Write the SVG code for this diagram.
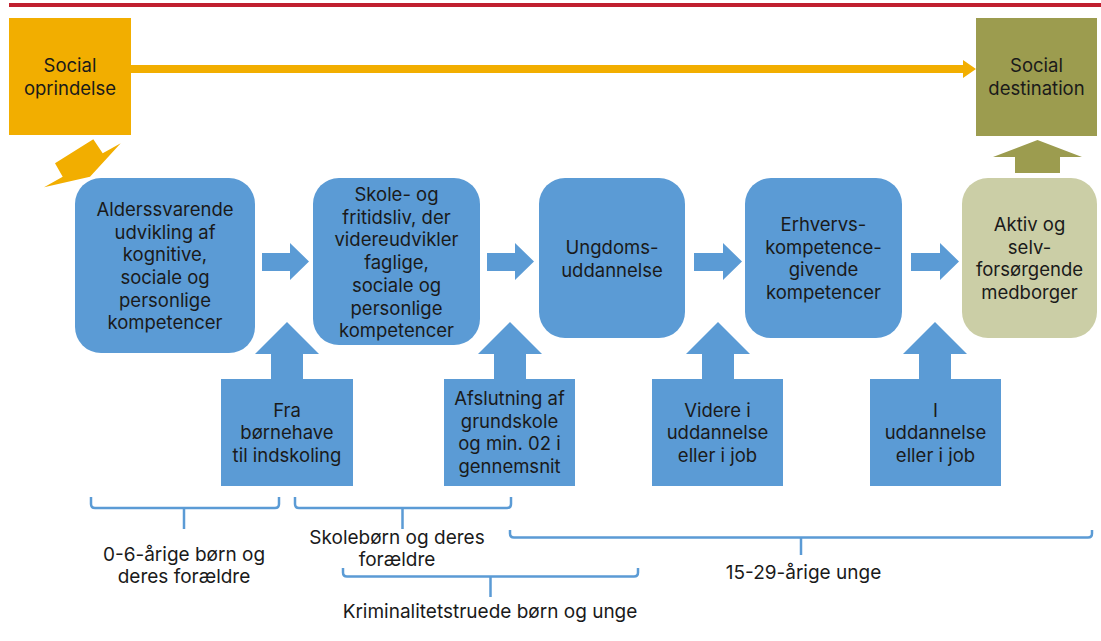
<svg xmlns="http://www.w3.org/2000/svg" width="1101" height="641" viewBox="0 0 1101 641">
<style>
text{font-family:Inter,"Noto Sans","Liberation Sans",sans-serif;font-size:18.5px;fill:#1a1a1a;text-anchor:middle}
text.lbl{font-size:19px}
.blue{fill:#5B9BD5}
.brace{fill:none;stroke:#5B9BD5;stroke-width:2.5}
</style>
<rect x="0" y="0" width="1101" height="641" fill="#ffffff"/>
<rect x="9" y="3" width="1092" height="4" fill="#C0202F"/>

<g id="connectors">
  <path d="M131,65 H963 V60 L976,69 L963,78 V73 H131 Z" fill="#F2AE00"/>
  <polygon points="120.7,143.3 90,176.7 44,187.3 62.7,176.7 55,163.3 93.3,139.3 102.7,153.3" fill="#F2AE00"/>
  <polygon points="1015,173 1015,157 993,157 1037.5,140 1082,157 1060,157 1060,173" fill="#9C9C4F"/>
  <polygon class="blue" points="262,253 290,253 290,243 309,261.5 290,280 290,271 262,271"/>
  <polygon class="blue" points="487,253 515,253 515,243 534,261.5 515,280 515,271 487,271"/>
  <polygon class="blue" points="694,253 723,253 723,243 742,261.5 723,280 723,271 694,271"/>
  <polygon class="blue" points="911,253 940,253 940,243 959,261.5 940,280 940,271 911,271"/>
  <polygon class="blue" points="271,379 271,354 255,354 287,322 319,354 303,354 303,379"/>
  <polygon class="blue" points="494,379 494,354 478,354 510,322 542,354 526,354 526,379"/>
  <polygon class="blue" points="702,379 702,354 686,354 718,322 750,354 734,354 734,379"/>
  <polygon class="blue" points="919,379 919,354 903,354 935,322 967,354 951,354 951,379"/>
</g>

<g id="social-oprindelse">
  <rect x="9" y="18" width="122" height="117" fill="#F2AE00"/>
  <text x="70" y="72">Social</text>
  <text x="70" y="94.7">oprindelse</text>
</g>
<g id="social-destination">
  <rect x="976" y="18" width="121" height="118" fill="#9C9C4F"/>
  <text x="1036.5" y="72">Social</text>
  <text x="1036.5" y="94.7">destination</text>
</g>

<g id="box1">
  <rect class="blue" x="75" y="178" width="180" height="175" rx="26"/>
  <text x="165" y="216">Alderssvarende</text>
  <text x="165" y="238.7">udvikling af</text>
  <text x="165" y="261.4">kognitive,</text>
  <text x="165" y="284">sociale og</text>
  <text x="165" y="306.7">personlige</text>
  <text x="165" y="329.4">kompetencer</text>
</g>
<g id="box2">
  <rect class="blue" x="313" y="178" width="167" height="167" rx="26"/>
  <text x="396.5" y="201">Skole- og</text>
  <text x="396.5" y="223.7">fritidsliv, der</text>
  <text x="396.5" y="246.4">videreudvikler</text>
  <text x="396.5" y="269">faglige,</text>
  <text x="396.5" y="291.8">sociale og</text>
  <text x="396.5" y="314.5">personlige</text>
  <text x="396.5" y="337.2">kompetencer</text>
</g>
<g id="box3">
  <rect class="blue" x="539" y="178" width="146" height="160" rx="26"/>
  <text x="612" y="254">Ungdoms-</text>
  <text x="612" y="276.7">uddannelse</text>
</g>
<g id="box4">
  <rect class="blue" x="745" y="178" width="157" height="160" rx="26"/>
  <text x="823.5" y="231">Erhvervs-</text>
  <text x="823.5" y="253.7">kompetence-</text>
  <text x="823.5" y="276.4">givende</text>
  <text x="823.5" y="299">kompetencer</text>
</g>
<g id="box5">
  <rect x="962" y="178" width="135" height="160" rx="26" fill="#CBCEA6"/>
  <text x="1029.5" y="231">Aktiv og</text>
  <text x="1029.5" y="253.7">selv-</text>
  <text x="1029.5" y="276.4">forsørgende</text>
  <text x="1029.5" y="299">medborger</text>
</g>

<g id="fra-boernehave">
  <rect class="blue" x="221" y="379" width="132" height="107"/>
  <text x="287" y="416.7">Fra</text>
  <text x="287" y="439.4">børnehave</text>
  <text x="287" y="462">til indskoling</text>
</g>
<g id="afslutning">
  <rect class="blue" x="444" y="379" width="131" height="107"/>
  <text x="509.5" y="405">Afslutning af</text>
  <text x="509.5" y="427.7">grundskole</text>
  <text x="509.5" y="450.4">og min. 02 i</text>
  <text x="509.5" y="473">gennemsnit</text>
</g>
<g id="videre">
  <rect class="blue" x="652" y="379" width="131" height="107"/>
  <text x="717.5" y="416.5">Videre i</text>
  <text x="717.5" y="439.2">uddannelse</text>
  <text x="717.5" y="461.9">eller i job</text>
</g>
<g id="i-uddannelse">
  <rect class="blue" x="870" y="379" width="131" height="107"/>
  <text x="935.5" y="416.5">I</text>
  <text x="935.5" y="439.2">uddannelse</text>
  <text x="935.5" y="461.9">eller i job</text>
</g>

<g id="brace-0-6">
  <path class="brace" d="M91,497 V504 Q91,508 95,508 H184 M184,508 V529 M184,508 H275 Q279,508 279,504 V497"/>
  <text class="lbl" x="184" y="561">0-6-årige børn og</text>
  <text class="lbl" x="184" y="583">deres forældre</text>
</g>
<g id="brace-skole">
  <path class="brace" d="M295,497 V504 Q295,508 299,508 H402.5 M402.5,508 V529 M402.5,508 H507 Q511,508 511,504 V497"/>
  <text class="lbl" x="397" y="544.3">Skolebørn og deres</text>
  <text class="lbl" x="397" y="566">forældre</text>
</g>
<g id="brace-15-29">
  <path class="brace" d="M510,530 V533.5 Q510,537.5 514,537.5 H801 M801,537.5 V555 M801,537.5 H1088 Q1092,537.5 1092,533.5 V530"/>
  <text class="lbl" x="803.5" y="578.7">15-29-årige unge</text>
</g>
<g id="brace-krim">
  <path class="brace" d="M343,568 V572.5 Q343,576.5 347,576.5 H490.5 M490.5,576.5 V597 M490.5,576.5 H634 Q638,576.5 638,572.5 V568"/>
  <text class="lbl" x="490" y="617.7">Kriminalitetstruede børn og unge</text>
</g>
</svg>
